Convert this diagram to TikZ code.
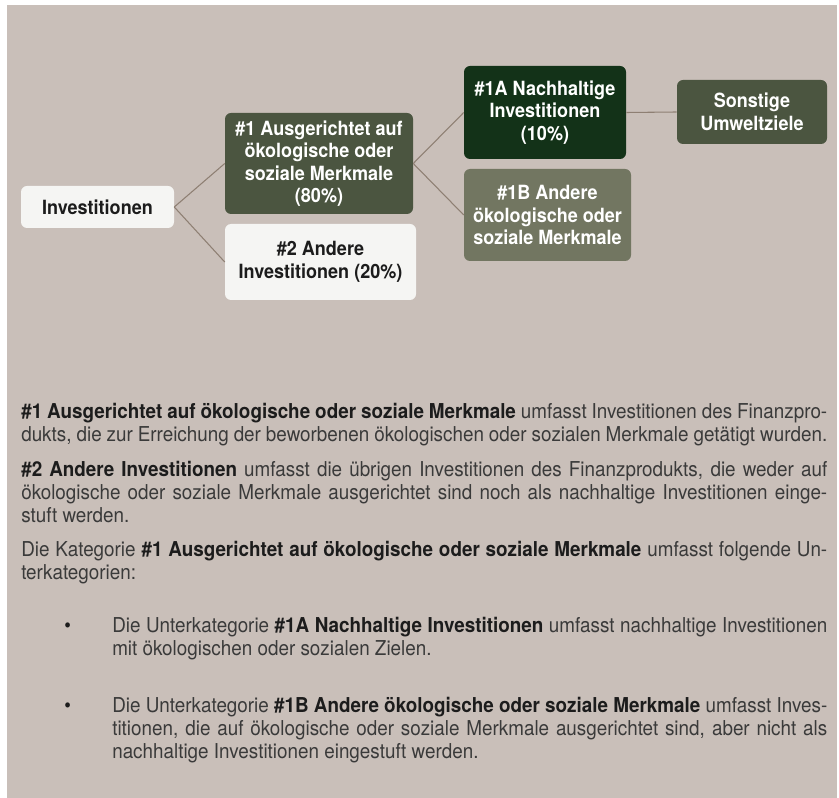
\documentclass[tikz,border=0pt]{standalone}
\usepackage{fontspec}
\setmainfont{TeX Gyre Heros}[FakeStretch=0.92]
\definecolor{bgbeige}{HTML}{C9BFB9}
\definecolor{olive}{HTML}{4B5540}
\definecolor{deepgreen}{HTML}{133218}
\definecolor{sage}{HTML}{727661}
\definecolor{paper}{HTML}{F5F5F3}
\definecolor{linkbrown}{HTML}{8E7F73}
\definecolor{bodygrey}{HTML}{3A3A3A}
\definecolor{bolddark}{HTML}{1C1C1C}
\newcommand\merk[1]{{\bfseries\color{bolddark}#1}}
\begin{document}
\begin{tikzpicture}[x=0.75pt,y=-0.75pt,
    box/.style={rounded corners=4.5pt,inner sep=0pt,align=center,
        font=\bfseries\fontsize{14.7pt}{16.9pt}\selectfont},
    link/.style={draw=linkbrown,line width=0.8pt},
    para/.style={anchor=north west,inner sep=0pt,align=justify,text=bodygrey,
        font=\fontsize{15.375pt}{17.25pt}\selectfont}]
    \useasboundingbox (0,0) rectangle (839,798);
    \fill[white] (0,0) rectangle (839,798);
    \fill[bgbeige] (7,5) rectangle (837,798);

    \node[box,fill=paper,text=bolddark,minimum width=114.75pt,minimum height=31.5pt] (inv) at (97.5,207) {Investitionen};
    \node[box,fill=olive,text=white,minimum width=141pt,minimum height=75.75pt] (one) at (319,163.5) {\#1 Ausgerichtet auf\\ökologische oder\\soziale Merkmale\\(80\%)};
    \node[box,fill=paper,text=bolddark,minimum width=143.25pt,minimum height=57pt] (two) at (320.5,262) {\#2 Andere\\Investitionen (20\%)};
    \node[box,fill=deepgreen,text=white,minimum width=121.5pt,minimum height=69.75pt] (oneA) at (545,112.5) {\#1A Nachhaltige\\Investitionen\\(10\%)};
    \node[box,fill=sage,text=white,minimum width=125.25pt,minimum height=69pt] (oneB) at (547.5,215) {\#1B Andere\\ökologische oder\\soziale Merkmale};
    \node[box,fill=olive,text=white,minimum width=112.5pt,minimum height=48pt] (sonst) at (752,112) {Sonstige\\Umweltziele};

    \draw[link] (inv.east) -- (one.west);
    \draw[link] (inv.east) -- (two.west);
    \draw[link] (one.east) -- (oneA.west);
    \draw[link] (one.east) -- (oneB.west);
    \draw[link] (oneA.east) -- (sonst.west);

    % Erläuterungen
    \node[para,text width=604.5pt] (txtOne) at (21,401.9) {\strut\merk{\#1 Ausgerichtet auf ökologische oder soziale Merkmale} umfasst Investitionen des Finanzpro-\linebreak dukts, die zur Erreichung der beworbenen ökologischen oder sozialen Merkmale getätigt wurden.};
    \node[para,text width=604.5pt] (txtTwo) at (21,459.9) {\strut\merk{\#2 Andere Investitionen} umfasst die übrigen Investitionen des Finanzprodukts, die weder auf\linebreak ökologische oder soziale Merkmale ausgerichtet sind noch als nachhaltige Investitionen einge-\linebreak stuft werden.};
    \node[para,text width=604.5pt] (txtCat) at (21,539.9) {\strut Die Kategorie \merk{\#1 Ausgerichtet auf ökologische oder soziale Merkmale} umfasst folgende Un-\linebreak terkategorien:};
    \node[anchor=base west,inner sep=0pt,text=bolddark,font=\fontsize{15.375pt}{17.25pt}\selectfont] (dotA) at (64,632) {\textbullet};
    \node[para,text width=536.25pt] (txtA) at (112,615.9) {\strut Die Unterkategorie \merk{\#1A Nachhaltige Investitionen} umfasst nachhaltige Investitionen\linebreak mit ökologischen oder sozialen Zielen.};
    \node[anchor=base west,inner sep=0pt,text=bolddark,font=\fontsize{15.375pt}{17.25pt}\selectfont] (dotB) at (64,712) {\textbullet};
    \node[para,text width=536.25pt] (txtB) at (112,695.9) {\strut Die Unterkategorie \merk{\#1B Andere ökologische oder soziale Merkmale} umfasst Inves-\linebreak titionen, die auf ökologische oder soziale Merkmale ausgerichtet sind, aber nicht als\linebreak nachhaltige Investitionen eingestuft werden.};
\end{tikzpicture}
\end{document}
